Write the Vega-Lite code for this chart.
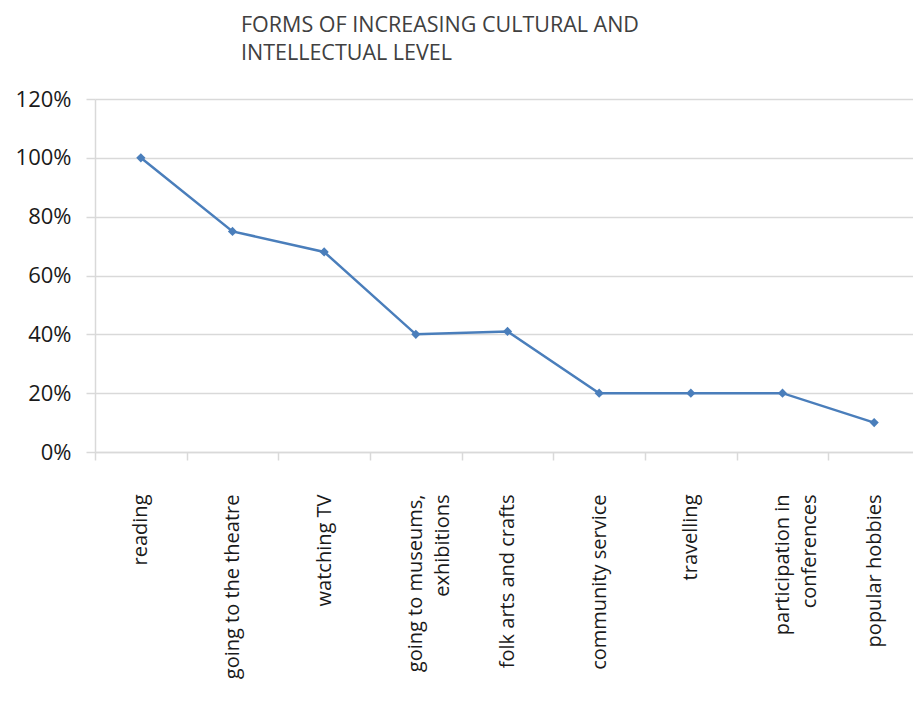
{
  "$schema": "https://vega.github.io/schema/vega-lite/v6.json",
  "width": 818,
  "height": 353,
  "autosize": {"type": "none"},
  "padding": {"left": 95, "top": 99, "right": 0, "bottom": 257},
  "background": "white",
  "title": {
    "text": ["FORMS OF INCREASING CULTURAL AND", "INTELLECTUAL LEVEL"],
    "anchor": "start",
    "frame": "group",
    "dx": 146,
    "offset": 24,
    "font": "Open Sans",
    "fontSize": 21.5,
    "fontWeight": "normal",
    "color": "#404040",
    "lineHeight": 28
  },
  "data": {
    "values": [
      {"activity": "reading", "value": 1.0},
      {"activity": "going to the theatre", "value": 0.75},
      {"activity": "watching TV", "value": 0.68},
      {"activity": "going to museums,|exhibitions", "value": 0.40},
      {"activity": "folk arts and crafts", "value": 0.41},
      {"activity": "community service", "value": 0.20},
      {"activity": "travelling", "value": 0.20},
      {"activity": "participation in|conferences", "value": 0.20},
      {"activity": "popular hobbies", "value": 0.10}
    ]
  },
  "mark": {
    "type": "line",
    "color": "#4a7ebb",
    "strokeWidth": 2.5,
    "point": {"shape": "diamond", "size": 85, "filled": true, "color": "#4a7ebb"}
  },
  "encoding": {
    "x": {
      "field": "activity",
      "type": "nominal",
      "sort": null,
      "scale": {"range": [0, 825]},
      "axis": {
        "title": null,
        "labelAngle": -90,
        "labelExpr": "split(datum.label, '|')",
        "labelFont": "Open Sans",
        "labelFontSize": 20,
        "labelColor": "#1a1a1a",
        "labelLineHeight": 27,
        "labelPadding": 34,
        "tickBand": "extent",
        "tickColor": "#d9d9d9",
        "tickSize": 8,
        "tickWidth": 1.5,
        "domainColor": "#d9d9d9",
        "domainWidth": 1.5,
        "grid": false,
        "labelOverlap": false,
        "labelLimit": 0
      }
    },
    "y": {
      "field": "value",
      "type": "quantitative",
      "scale": {"domain": [0, 1.2]},
      "axis": {
        "title": null,
        "values": [0, 0.2, 0.4, 0.6, 0.8, 1.0, 1.2],
        "format": ".0%",
        "labelFont": "Open Sans",
        "labelFontSize": 22,
        "labelColor": "#1a1a1a",
        "labelPadding": 15,
        "tickColor": "#d9d9d9",
        "tickSize": 9,
        "tickWidth": 1.5,
        "domainColor": "#d9d9d9",
        "domainWidth": 1.5,
        "gridColor": "#d9d9d9",
        "gridWidth": 1.5
      }
    }
  },
  "config": {"view": {"stroke": null}}
}
